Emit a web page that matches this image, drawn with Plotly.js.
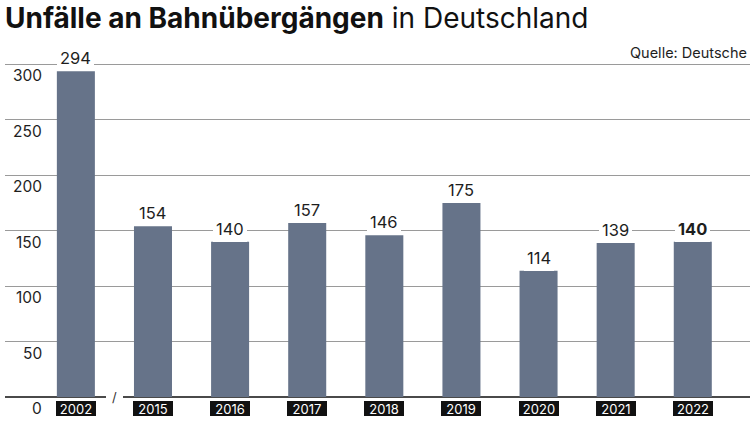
<!DOCTYPE html>
<html>
<head>
<meta charset="utf-8">
<script src="https://cdn.plot.ly/plotly-3.0.1.min.js"></script>
<style>html,body{margin:0;padding:0;background:#fff;}#chart{width:750px;height:421px;}</style>
</head>
<body>
<div id="chart"></div>
<script>
const years = ["2002","2015","2016","2017","2018","2019","2020","2021","2022"];
const accidents = [294,154,140,157,146,175,114,139,140];
const yTicks = [0,50,100,150,200,250,300];
const titleBold = "Unfälle an Bahnübergängen";
const titleRest = " in Deutschland";
const sourceText = "Quelle: Deutsche";

const FONT = "Inter, Lato, 'Noto Sans', sans-serif";
const barColor = "#667389";
const plotTop = 55, plotBottom = 397.5;
const plotH = plotBottom - plotTop;
const pxPerUnit = 1.11;

const annotations = [];
// value labels (category index used as position)
accidents.forEach((v, i) => {
  const last = i === accidents.length - 1;
  annotations.push({
    x: i, y: v, xref: "x", yref: "y",
    text: last ? "<b>" + v + "</b>" : String(v),
    showarrow: false, yanchor: "middle", yshift: 13,
    font: {family: FONT, size: 16.5, color: "#1e1e1e"},
    bgcolor: "#ffffff", borderpad: 3, borderwidth: 0
  });
});
// x category labels in black boxes
years.forEach((y, i) => {
  annotations.push({
    x: i, y: 0, xref: "x", yref: "y",
    text: y, showarrow: false, yanchor: "middle", yshift: -11.5,
    font: {family: FONT, size: 13, color: "#ffffff"},
    bgcolor: "#111111", width: 39, height: 14, borderpad: 0.5, borderwidth: 0
  });
});
// y tick labels under gridlines
yTicks.forEach(t => {
  annotations.push({
    x: 0.0525, xref: "paper", y: t, yref: "y",
    text: String(t), showarrow: false, xanchor: "right", yanchor: "middle", yshift: -11.5,
    font: {family: FONT, size: 15.5, color: "#1e1e1e"}
  });
});
// axis break mark
annotations.push({
  x: 0.5, y: 0, xref: "x", yref: "y", text: "/", showarrow: false,
  yanchor: "middle", font: {family: FONT, size: 13, color: "#333"},
  bgcolor: "#ffffff", width: 15, borderpad: 1, borderwidth: 0
});
// source
annotations.push({
  x: (749 - 5) / 745, xref: "paper", y: (plotBottom - 52) / plotH, yref: "paper",
  text: sourceText, showarrow: false, xanchor: "right", yanchor: "middle",
  font: {family: FONT, size: 14.5, color: "#1e1e1e"}
});

const trace = {
  type: "bar", x: years, y: accidents,
  marker: {color: barColor, line: {width: 0}},
  hoverinfo: "none"
};

const layout = {
  width: 750, height: 421,
  margin: {l: 5, r: 0, t: plotTop, b: 421 - plotBottom, pad: 0},
  paper_bgcolor: "#fff", plot_bgcolor: "#fff",
  bargap: 0.507,
  showlegend: false,
  title: {
    text: "<b>" + titleBold + "</b>" + titleRest,
    x: 5/750, xanchor: "left", y: 1 - 18/421, yanchor: "middle",
    font: {family: FONT, size: 28, color: "#111"}
  },
  xaxis: {
    type: "category", range: [-0.919, 8.742],
    showticklabels: false, showgrid: false, zeroline: false, showline: false, ticks: ""
  },
  yaxis: {
    range: [0, plotH / pxPerUnit], tickvals: yTicks, showticklabels: false,
    showgrid: true, gridcolor: "#9a9a9a", gridwidth: 1,
    zeroline: true, zerolinecolor: "#4a4a4a", zerolinewidth: 1.5,
    showline: false, ticks: ""
  },
  annotations: annotations
};

Plotly.newPlot("chart", [trace], layout, {displayModeBar: false, staticPlot: true});
</script>
</body>
</html>
